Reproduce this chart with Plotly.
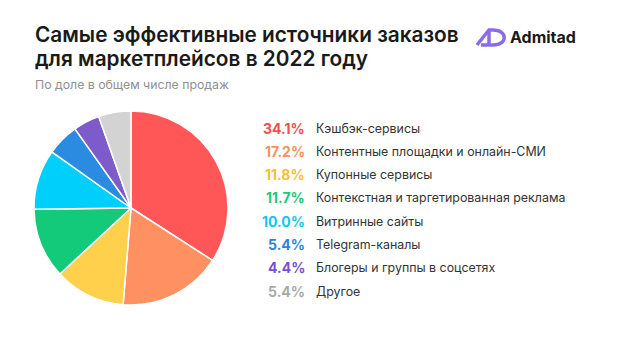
import plotly.graph_objects as go

W, H = 621, 344

labels = ["Кэшбэк-сервисы", "Контентные площадки и онлайн-СМИ", "Купонные сервисы",
          "Контекстная и таргетированная реклама", "Витринные сайты", "Telegram-каналы",
          "Блогеры и группы в соцсетях", "Другое"]
values = [34.1, 17.2, 11.8, 11.7, 10.0, 5.4, 4.4, 5.4]
slice_colors = ["#FF5757", "#FF9062", "#FFD04B", "#13C97A", "#00CFFB", "#2A8BE0", "#7E5BCB", "#D3D3D3"]
pct_colors = ["#F24E4E", "#FF8F5C", "#F7BE2E", "#1CC778", "#10C7F0", "#2F7FDF", "#7A4FCF", "#A9A9A9"]

title_lines = ["Самые эффективные источники заказов", "для маркетплейсов в 2022 году"]
subtitle = "По доле в общем числе продаж"

FONT = "Inter"

cx, cy, r = 131, 208, 97

def px(x):
    return x / W

def py(y):
    return 1 - y / H

fig = go.Figure()
fig.add_trace(go.Pie(
    labels=labels, values=values, sort=False, direction="clockwise", rotation=0,
    marker=dict(colors=slice_colors, line=dict(color="white", width=1.5)),
    textinfo="none", hoverinfo="label+percent", showlegend=False,
    domain=dict(x=[px(cx - r), px(cx + r)], y=[py(cy + r), py(cy - r)]),
))

ann = []
ann.append(dict(x=px(33), y=py(35), xref="paper", yref="paper", xanchor="left", yanchor="middle",
                text=title_lines[0], showarrow=False,
                font=dict(family=FONT, size=20.8, color="#1a1a1a", weight=600)))
ann.append(dict(x=px(33), y=py(59), xref="paper", yref="paper", xanchor="left", yanchor="middle",
                text=title_lines[1], showarrow=False,
                font=dict(family=FONT, size=20.8, color="#1a1a1a", weight=600)))
ann.append(dict(x=px(33), y=py(84), xref="paper", yref="paper", xanchor="left", yanchor="middle",
                text=subtitle, showarrow=False,
                font=dict(family=FONT, size=12.3, color="#909090")))
ann.append(dict(x=px(508), y=py(37), xref="paper", yref="paper", xanchor="left", yanchor="middle",
                text="Admitad", showarrow=False,
                font=dict(family=FONT, size=16, color="#1a1a1a", weight=700)))

row_y0, row_dy = 128, 23.3
for i, (lab, v) in enumerate(zip(labels, values)):
    y = row_y0 + i * row_dy
    ann.append(dict(x=px(307), y=py(y), xref="paper", yref="paper", xanchor="right", yanchor="middle",
                    text=f"{v:.1f}%", showarrow=False,
                    font=dict(family=FONT, size=14, color=pct_colors[i], weight=700)))
    ann.append(dict(x=px(314), y=py(y), xref="paper", yref="paper", xanchor="left", yanchor="middle",
                    text=lab, showarrow=False,
                    font=dict(family=FONT, size=12.4, color="#333333")))

# Admitad logo icon (outline "AD")
def pt(x, y):
    return f"{px(x):.5f},{py(y):.5f}"

icon_path = (f"M {pt(477,45)} L {pt(489,30)} L {pt(493,30)} "
             f"C {pt(508,30)} {pt(508,45)} {pt(493,45)} L {pt(481,45)}")
shapes = [dict(type="path", xref="paper", yref="paper", path=icon_path,
               line=dict(color="#8B6CE8", width=3.5), fillcolor="rgba(0,0,0,0)")]
shapes.append(dict(type="line", xref="paper", yref="paper",
                   x0=px(489), y0=py(31), x1=px(489), y1=py(44),
                   line=dict(color="#8B6CE8", width=3.5)))

fig.update_layout(width=W, height=H, margin=dict(l=0, r=0, t=0, b=0),
                  paper_bgcolor="white", plot_bgcolor="white",
                  annotations=ann, shapes=shapes)
fig.write_html("out.html")
